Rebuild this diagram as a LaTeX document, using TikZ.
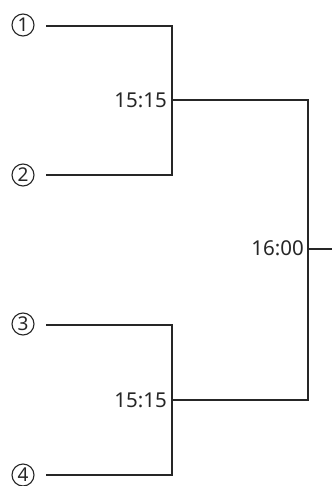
\documentclass[tikz,border=0pt]{standalone}
\usepackage{fontspec}
\setmainfont{Noto Sans}
\begin{document}
\begin{tikzpicture}[x=1pt,y=-1pt,
  line/.style={line width=1.6pt,black!85},
  circ/.style={circle,draw=black!85,line width=1.1pt,minimum size=22pt,inner sep=0pt,
    font=\fontsize{19}{19}\selectfont,text=black!85},
  timelbl/.style={font=\fontsize{20.5}{20.5}\selectfont,anchor=east,inner sep=0pt,text=black!85}]
\useasboundingbox (0,0) rectangle (332,486);
\node[circ] (n1) at (23,25) {1};
\node[circ] (n2) at (23,175) {2};
\node[circ] (n3) at (23,324) {3};
\node[circ] (n4) at (23,475) {4};
\coordinate (s1) at (46,26);
\coordinate (s2) at (46,175);
\coordinate (s3) at (46,325);
\coordinate (s4) at (46,475);
\coordinate (j1) at (172,100);
\coordinate (j2) at (172,400);
\coordinate (j3) at (308,249);
\coordinate (e) at (332,249);
\draw[line] (s1) -| (j1);
\draw[line] (s2) -| (j1);
\draw[line] (s3) -| (j2);
\draw[line] (s4) -| (j2);
\draw[line] (j1) -| (j3);
\draw[line] (j2) -| (j3);
\draw[line] (j3) -- (e);
\node[timelbl] (t1) at (167,100) {15:15};
\node[timelbl] (t2) at (167,400) {15:15};
\node[timelbl] (t3) at (304,248) {16:00};
\end{tikzpicture}
\end{document}
